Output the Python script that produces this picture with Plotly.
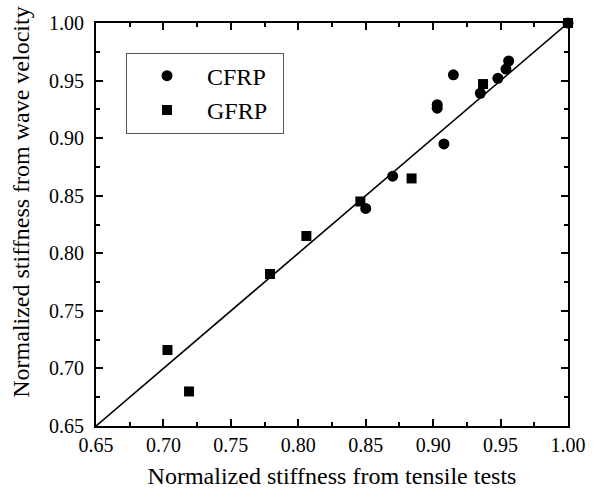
import plotly.graph_objects as go

cfrp_x = [0.850, 0.870, 0.908, 0.903, 0.903, 0.915, 0.935, 0.948, 0.954, 0.956, 1.000]
cfrp_y = [0.839, 0.867, 0.895, 0.929, 0.926, 0.955, 0.939, 0.952, 0.960, 0.967, 1.000]
gfrp_x = [0.703, 0.719, 0.779, 0.806, 0.846, 0.884, 0.937, 1.000]
gfrp_y = [0.716, 0.680, 0.782, 0.815, 0.845, 0.865, 0.947, 1.000]
line_x = [0.65, 1.00]
line_y = [0.65, 1.00]
tick_vals = [0.65, 0.70, 0.75, 0.80, 0.85, 0.90, 0.95, 1.00]
tick_text = ["0.65", "0.70", "0.75", "0.80", "0.85", "0.90", "0.95", "1.00"]

FONT = "Liberation Serif, Times New Roman, serif"

fig = go.Figure()
fig.add_trace(go.Scatter(x=line_x, y=line_y, mode="lines",
                         line=dict(color="black", width=1.6), showlegend=False,
                         hoverinfo="skip"))
fig.add_trace(go.Scatter(x=cfrp_x, y=cfrp_y, mode="markers", name="CFRP\u00a0\u2009",
                         cliponaxis=False,
                         marker=dict(symbol="circle", size=11, color="black")))
fig.add_trace(go.Scatter(x=gfrp_x, y=gfrp_y, mode="markers", name="GFRP\u00a0\u2009",
                         cliponaxis=False,
                         marker=dict(symbol="square", size=10, color="black")))

axis_common = dict(
    range=[0.65, 1.00], tickvals=tick_vals, ticktext=tick_text, automargin=False,
    showgrid=False, zeroline=False, showline=True, linecolor="black", linewidth=2,
    mirror="ticks", ticks="inside", ticklen=7, tickwidth=1.6, tickcolor="black",
    minor=dict(ticks="inside", ticklen=4, tickwidth=1.6, tickcolor="black", dtick=0.025),
    tickfont=dict(family=FONT, size=20, color="black"),
)

fig.update_xaxes(**axis_common, ticklabelstandoff=0,
                 title=dict(text="Normalized stiffness from tensile tests",
                            font=dict(family=FONT, size=24, color="black"), standoff=12))
fig.update_yaxes(**axis_common, ticklabelstandoff=6)

fig.add_annotation(text="Normalized stiffness from wave velocity", xref="paper", yref="paper",
                   x=-0.158, y=0.555, textangle=-90, showarrow=False,
                   font=dict(family=FONT, size=24, color="black"),
                   xanchor="center", yanchor="middle")

fig.update_layout(
    width=606, height=498,
    margin=dict(l=96, r=38, t=23, b=72),
    paper_bgcolor="white", plot_bgcolor="white",
    showlegend=True,
    legend=dict(x=0.0636, y=0.9266, xanchor="left", yanchor="top",
                bordercolor="#555555", borderwidth=1, bgcolor="white",
                font=dict(family=FONT, size=24, color="black"),
                itemwidth=70),
)

fig.write_html("out.html", config={"displayModeBar": False},
               post_script="document.body.style.margin='0';document.body.style.padding='0';")
